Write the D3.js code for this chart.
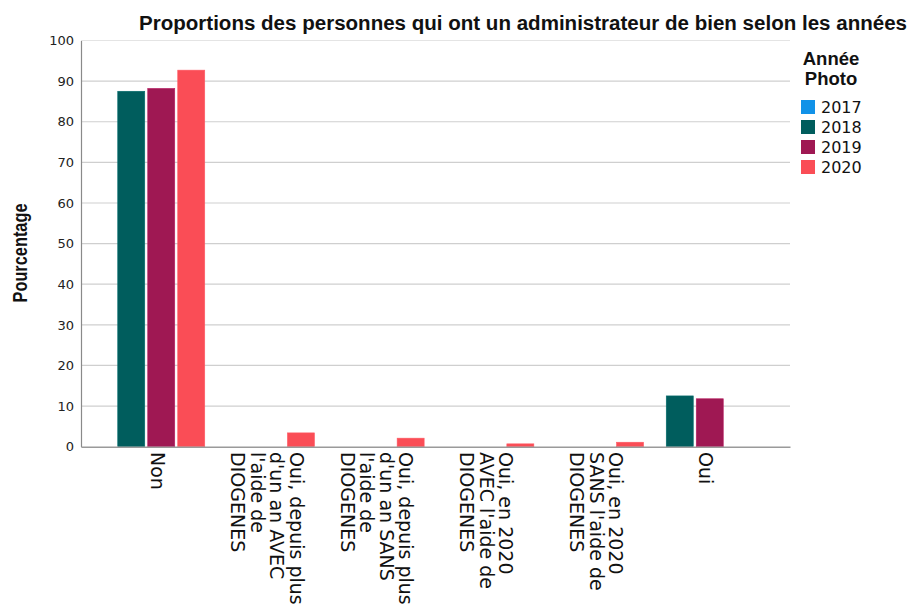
<!DOCTYPE html>
<html>
<head>
<meta charset="utf-8">
<script src="https://cdn.jsdelivr.net/npm/d3@7"></script>
<style>
  html, body { margin: 0; padding: 0; background: #fff; }
  svg { display: block; }
</style>
</head>
<body>
<svg id="chart" width="912" height="610"></svg>
<script>
// ---- Data ----
const categories = [
  "Non",
  "Oui, depuis plus\nd'un an AVEC\nl'aide de\nDIOGENES",
  "Oui, depuis plus\nd'un an SANS\nl'aide de\nDIOGENES",
  "Oui, en 2020\nAVEC l'aide de\nDIOGENES",
  "Oui, en 2020\nSANS l'aide de\nDIOGENES",
  "Oui"
];
const years = ["2017", "2018", "2019", "2020"];
const values2017 = [null, null, null, null, null, null];
const values2018 = [87.5, null, null, null, null, 12.5];
const values2019 = [88.2, null, null, null, null, 11.8];
const values2020 = [92.7, 3.4, 2.1, 0.7, 1.1, null];
const yTicks = [0, 10, 20, 30, 40, 50, 60, 70, 80, 90, 100];
const colors = ["#1192e8", "#005d5d", "#9f1853", "#fa4d56"];

const titleText = "Proportions des personnes qui ont un administrateur de bien selon les années";
const yTitle = "Pourcentage";
const legendTitle = ["Année", "Photo"];

const seriesValues = [values2017, values2018, values2019, values2020];

// ---- Layout ----
const svg = d3.select("#chart");
const plotL = 81, plotR = 790, plotT = 40.5, plotB = 446.7;

const x = d3.scaleBand().domain(categories).range([plotL, plotR])
  .paddingInner(0.207).paddingOuter(0.335);
const activeYears = years.filter((y, i) => seriesValues[i].some(v => v != null));
const xInner = d3.scaleBand().domain(activeYears).range([0, x.bandwidth()]).paddingInner(0.1);
const y = d3.scaleLinear().domain([0, 100]).range([plotB, plotT]);
const color = d3.scaleOrdinal().domain(years).range(colors);

// Gridlines
svg.append("g").selectAll("line").data(yTicks.filter(t => t > 0)).join("line")
  .attr("x1", plotL).attr("x2", plotR)
  .attr("y1", d => y(d)).attr("y2", d => y(d))
  .attr("stroke", d => d === 100 ? "#e4e4e4" : "#cfcfcf")
  .attr("stroke-width", 1.2);

// Y axis
const yAxis = d3.axisLeft(y).tickValues(yTicks).tickSize(0).tickPadding(7);
const yg = svg.append("g").attr("transform", `translate(${plotL},0)`).call(yAxis);
yg.select(".domain").attr("stroke", "#8a8a8a").attr("stroke-width", 1.2);
yg.selectAll("text")
  .attr("font-family", "DejaVu Sans, sans-serif")
  .attr("font-size", 13)
  .attr("fill", "#222");

// Bars
const barData = [];
years.forEach((yr, si) => {
  seriesValues[si].forEach((v, ci) => {
    if (v != null && v > 0) barData.push({ cat: categories[ci], year: yr, value: v });
  });
});
svg.append("g").selectAll("rect").data(barData).join("rect")
  .attr("x", d => x(d.cat) + xInner(d.year))
  .attr("width", xInner.bandwidth())
  .attr("y", d => y(d.value))
  .attr("height", d => y(0) - y(d.value))
  .attr("fill", d => color(d.year))
  .attr("stroke", d => d3.color(color(d.year)).brighter(0.4))
  .attr("stroke-width", 0.6);

// X axis baseline
const xAxis = d3.axisBottom(x).tickSize(0).tickFormat("");
const xg = svg.append("g").attr("transform", `translate(0,${plotB})`).call(xAxis);
xg.select(".domain").attr("stroke", "#9a9a9a").attr("stroke-width", 1.6);

// X labels (rotated, multi-line)
const lh = 19.5;
const xl = svg.append("g").attr("font-family", "DejaVu Sans, sans-serif")
  .attr("font-size", 19).attr("fill", "#111");
categories.forEach(cat => {
  const lines = cat.split("\n");
  const n = lines.length;
  const cx = x(cat) + x.bandwidth() / 2;
  const t = xl.append("text")
    .attr("transform", `translate(${cx},452) rotate(90)`)
    .attr("text-anchor", "start");
  lines.forEach((ln, i) => {
    t.append("tspan").attr("x", 0)
      .attr("y", 10.5 + (i - (n - 1) / 2) * lh)
      .text(ln);
  });
});

// Title
svg.append("text")
  .attr("x", 139).attr("y", 29.5)
  .attr("font-family", "Liberation Sans Narrow, Arial Narrow, Liberation Sans, sans-serif")
  .attr("font-weight", "bold").attr("font-size", 20)
  .attr("textLength", 768).attr("lengthAdjust", "spacingAndGlyphs")
  .attr("fill", "#111")
  .text(titleText);

// Y title
svg.append("text")
  .attr("transform", "translate(27,253) rotate(-90)")
  .attr("text-anchor", "middle")
  .attr("font-family", "Liberation Sans Narrow, Arial Narrow, Liberation Sans, sans-serif")
  .attr("font-weight", "bold").attr("font-size", 20)
  .attr("textLength", 99).attr("lengthAdjust", "spacingAndGlyphs")
  .attr("fill", "#111")
  .text(yTitle);

// Legend
const lg = svg.append("g");
lg.selectAll("text.lt").data(legendTitle).join("text").attr("class", "lt")
  .attr("x", 831).attr("y", (d, i) => 65 + i * 20)
  .attr("text-anchor", "middle")
  .attr("font-family", "Liberation Sans, Arial, sans-serif")
  .attr("font-weight", "bold").attr("font-size", 18.5)
  .attr("fill", "#111")
  .text(d => d);
const items = lg.selectAll("g.item").data(years).join("g").attr("class", "item")
  .attr("transform", (d, i) => `translate(801,${100 + i * 20})`);
items.append("rect").attr("width", 14).attr("height", 14)
  .attr("fill", d => color(d));
items.append("text").attr("x", 20).attr("y", 13)
  .attr("font-family", "DejaVu Sans, sans-serif")
  .attr("font-size", 16).attr("fill", "#111")
  .text(d => d);
</script>
</body>
</html>
